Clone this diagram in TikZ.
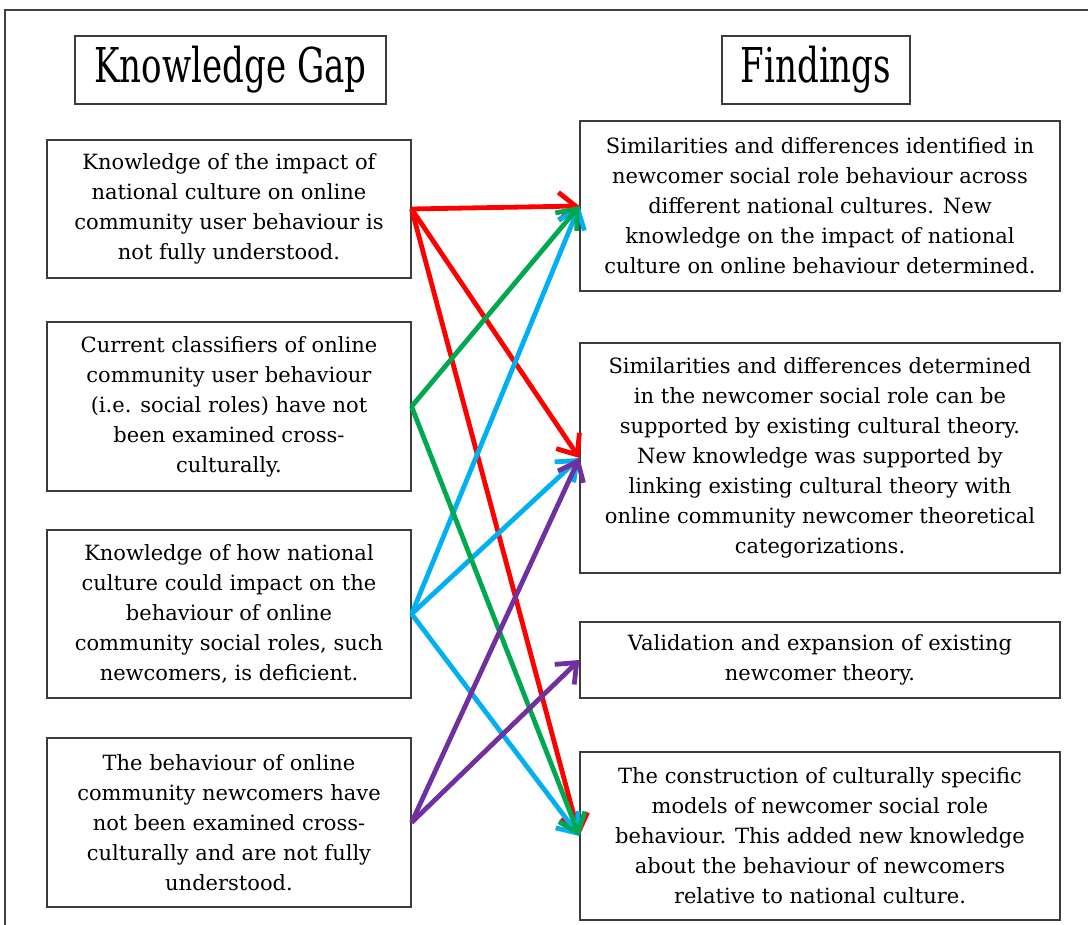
\documentclass[tikz,border=0pt]{standalone}
\usepackage{fontspec}
\setmainfont{DejaVu Serif}
\newfontfamily\headfont{DejaVu Serif}[FakeStretch=0.71]
\definecolor{gapred}{RGB}{255,0,0}
\definecolor{gapgreen}{RGB}{0,168,80}
\definecolor{gapcyan}{RGB}{0,176,240}
\definecolor{gappurple}{RGB}{112,48,160}
\definecolor{boxline}{RGB}{60,60,60}
\usetikzlibrary{arrows.meta,positioning}

\begin{document}
\begin{tikzpicture}[x=1pt,y=-1pt,
    textbox/.style={draw=boxline,line width=1.2pt,inner sep=0pt,align=center,
        text=black,font=\fontsize{21}{30}\selectfont},
    headbox/.style={draw=boxline,line width=1.2pt,inner sep=0pt,align=center,
        text=black,font=\headfont\fontsize{48}{50}\selectfont},
    link/.style={line width=4.8pt,-{Straight Barb[length=17pt,width=28pt]}}]
  \useasboundingbox (0,0) rectangle (1088,925);
  %% Frame
  \draw[line width=1.5pt,black!75] (1088,10) -- (5,10) -- (5,925);
  %% Headings
  \node[headbox,minimum width=311pt,minimum height=68pt] (gaphead) at (230.5,70) {Knowledge Gap};
  \node[headbox,minimum width=188pt,minimum height=68pt] (findhead) at (816,70) {Findings};
  %% Knowledge gaps
  \node[textbox,minimum width=364pt,minimum height=138pt] (gap1) at (229,209)
    {Knowledge of the impact of\\national culture on online\\community user behaviour is\\not fully understood.};
  \node[textbox,minimum width=364pt,minimum height=169pt] (gap2) at (229,406.5)
    {Current classifiers of online\\community user behaviour\\(i.e. social roles) have not\\been examined cross-\\culturally.};
  \node[textbox,minimum width=364pt,minimum height=168pt] (gap3) at (229,614)
    {Knowledge of how national\\culture could impact on the\\behaviour of online\\community social roles, such\\newcomers, is deficient.};
  \node[textbox,minimum width=364pt,minimum height=169pt] (gap4) at (229,822.5)
    {The behaviour of online\\community newcomers have\\not been examined cross-\\culturally and are not fully\\understood.};
  %% Findings
  \node[textbox,minimum width=480pt,minimum height=170pt] (find1) at (820,206)
    {Similarities and differences identified in\\newcomer social role behaviour across\\different national cultures. New\\knowledge on the impact of national\\culture on online behaviour determined.};
  \node[textbox,minimum width=480pt,minimum height=230pt] (find2) at (820,458)
    {Similarities and differences determined\\in the newcomer social role can be\\supported by existing cultural theory.\\New knowledge was supported by\\linking existing cultural theory with\\online community newcomer theoretical\\categorizations.};
  \node[textbox,minimum width=480pt,minimum height=76pt] (find3) at (820,660)
    {Validation and expansion of existing\\newcomer theory.};
  \node[textbox,minimum width=480pt,minimum height=168pt] (find4) at (820,836)
    {The construction of culturally specific\\models of newcomer social role\\behaviour. This added new knowledge\\about the behaviour of newcomers\\relative to national culture.};
  %% Links
  \draw[link,gapred] (gap1.east) -- (find1.west);
  \draw[link,gapred] (gap1.east) -- (find2.west);
  \draw[link,gapred] (gap1.east) -- (find4.west);
  \draw[link,gapcyan] (gap3.east) -- (find1.west);
  \draw[link,gapcyan] (gap3.east) -- (find2.west);
  \draw[link,gapcyan] (gap3.east) -- (find4.west);
  \draw[link,gapgreen] (gap2.east) -- (find1.west);
  \draw[link,gapgreen] (gap2.east) -- (find4.west);
  \draw[link,gappurple] (gap4.east) -- (find2.west);
  \draw[link,gappurple] (gap4.east) -- (find3.west);
\end{tikzpicture}
\end{document}
